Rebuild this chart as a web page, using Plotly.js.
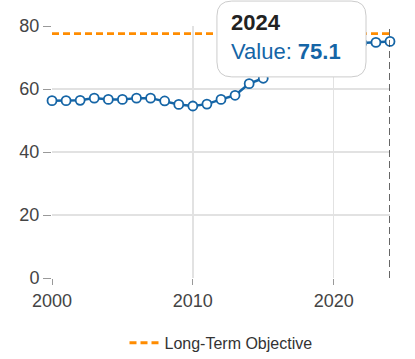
<!DOCTYPE html>
<html><head><meta charset="utf-8">
<script src="https://cdn.plot.ly/plotly-3.0.1.min.js"></script>
<style>html,body{margin:0;padding:0;background:#fff}#chart{width:415px;height:359px}</style>
</head><body><div id="chart"></div>
<script>
const years = [2000,2001,2002,2003,2004,2005,2006,2007,2008,2009,2010,2011,2012,2013,2014,2015,2016,2017,2018,2019,2020,2021,2022,2023,2024];
const values = [56.3,56.3,56.4,57.1,56.7,56.7,57.1,57.1,56.2,55.1,54.6,55.2,56.7,58.0,61.7,63.4,66.0,68.2,70.1,71.6,72.6,73.8,74.6,74.8,75.1];
const objectiveYears = [2000,2024];
const objectiveValues = [77.6,77.6];
const highlightYear = 2024;
const highlightValue = 75.1;

const blue = '#1565a6';
const x0 = 0.488, x1 = 0.929, y0 = 0.798, y1 = 1.099, rx = 0.044, ry = 0.059;
const boxPath = `M ${x0+rx} ${y1} L ${x1-rx} ${y1} Q ${x1} ${y1} ${x1} ${y1-ry} L ${x1} ${y0+ry} Q ${x1} ${y0} ${x1-rx} ${y0} L ${x0+rx} ${y0} Q ${x0} ${y0} ${x0} ${y0+ry} L ${x0} ${y1-ry} Q ${x0} ${y1} ${x0+rx} ${y1} Z`;

const data = [
  {x: objectiveYears, y: objectiveValues, mode: 'lines', name: 'Long-Term Objective',
   line: {color: '#ff8c00', width: 2.8, dash: '7px,4px'}, showlegend: true},
  {x: years, y: values, mode: 'lines+markers', name: 'Value', showlegend: false, cliponaxis: false,
   line: {color: blue, width: 2.5},
   marker: {size: 9, color: '#ffffff', line: {color: blue, width: 1.8}}}
];

const layout = {
  width: 415, height: 359,
  margin: {l: 52, r: 25, t: 26, b: 81, autoexpand: false},
  paper_bgcolor: '#fff', plot_bgcolor: '#fff',
  font: {family: 'Liberation Sans, Arial, sans-serif', color: '#444', size: 18},
  xaxis: {range: [2000, 2024], tickvals: [2000, 2010, 2020], ticks: 'outside', ticklen: 6,
          tickcolor: '#999', gridcolor: '#e2e2e2', gridwidth: 1.5, zeroline: false, showline: false,
          tickfont: {size: 18}, automargin: false},
  yaxis: {range: [0, 80], tickvals: [0, 20, 40, 60, 80], ticks: 'outside', ticklen: 8,
          tickcolor: '#999', gridcolor: '#e2e2e2', gridwidth: 1.5, zeroline: false, showline: false,
          tickfont: {size: 18}, automargin: false},
  showlegend: true,
  legend: {orientation: 'h', x: 0.5, xanchor: 'center', yref: 'container', y: 0.045, yanchor: 'middle',
           font: {size: 16, color: '#333'}},
  shapes: [
    {type: 'line', xref: 'x', yref: 'paper', x0: highlightYear, x1: highlightYear, y0: 0, y1: 1,
     line: {color: '#333', width: 1.5, dash: '7px,4px'}},
    {type: 'path', xref: 'paper', yref: 'paper', path: boxPath,
     fillcolor: '#ffffff', line: {color: '#cccccc', width: 1}, layer: 'above'}
  ],
  annotations: [
    {xref: 'paper', yref: 'paper', x: 0.525, y: 1.012, xanchor: 'left', yanchor: 'middle',
     text: '<b>' + highlightYear + '</b>', showarrow: false,
     font: {size: 22, color: '#222'}},
    {xref: 'paper', yref: 'paper', x: 0.525, y: 0.897, xanchor: 'left', yanchor: 'middle',
     text: 'Value: <b>' + highlightValue + '</b>', showarrow: false,
     font: {size: 22, color: blue}}
  ]
};

Plotly.newPlot('chart', data, layout, {displayModeBar: false, staticPlot: true});
</script></body></html>
